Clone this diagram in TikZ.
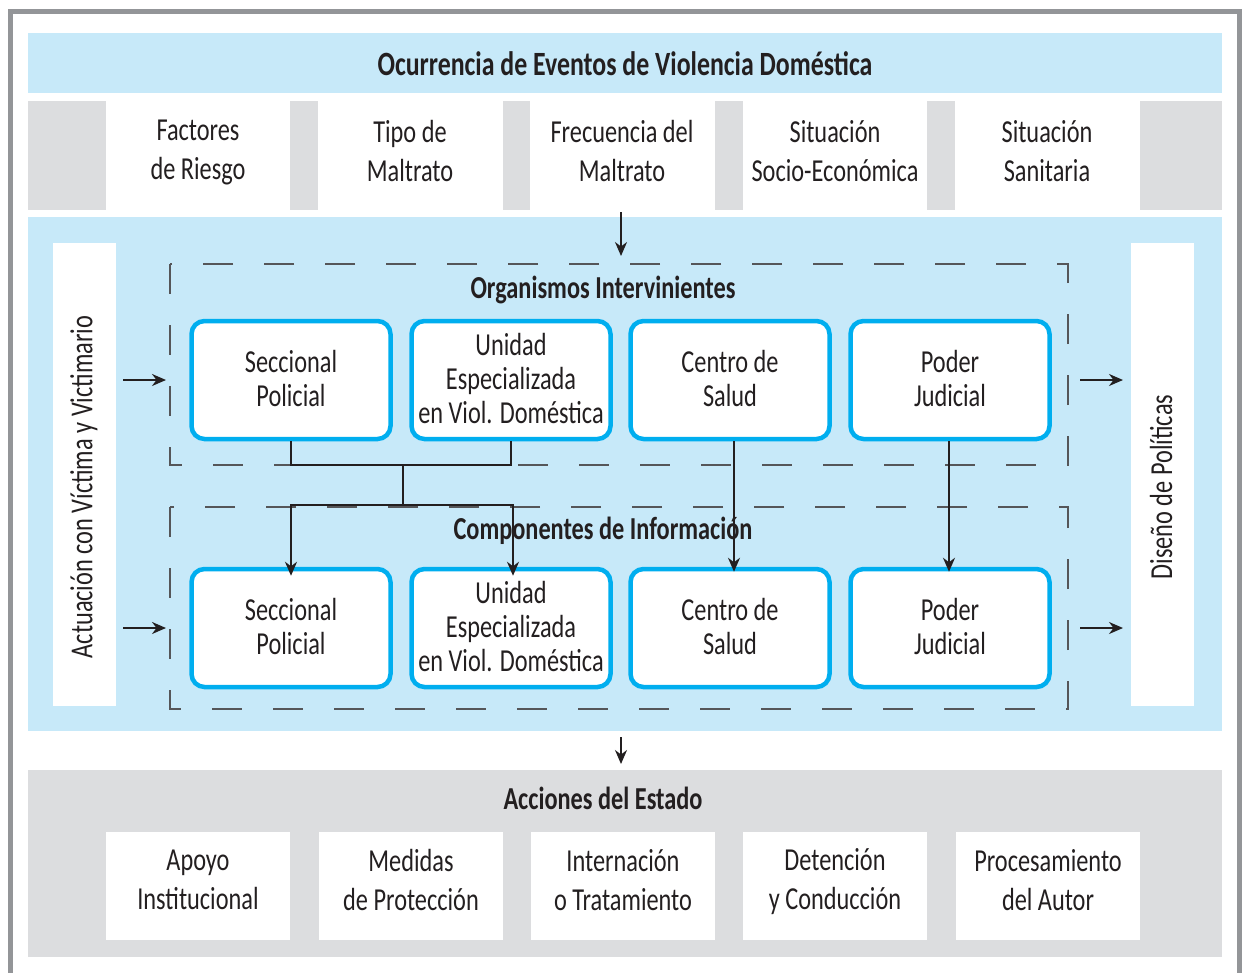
\documentclass[tikz,border=0pt]{standalone}
\usepackage{fontspec}
\setmainfont[FakeStretch=0.76]{Carlito}
\usetikzlibrary{arrows.meta}
\definecolor{lblue}{HTML}{C7E9F9}
\definecolor{cyanb}{HTML}{00AEEF}
\definecolor{lgray}{HTML}{DCDDDF}
\definecolor{fgray}{HTML}{939598}
\definecolor{dgray}{HTML}{555659}
\definecolor{txt}{HTML}{231F20}
\newcommand{\mystrut}{\rule{0pt}{27pt}\rule[-7pt]{0pt}{7pt}}
\newcommand{\mystrutb}{\rule{0pt}{33pt}\rule[-4pt]{0pt}{4pt}}
\tikzset{
  orgbox/.style={draw=cyanb, line width=4.5pt, fill=white, rounded corners=13pt, minimum width=199pt, minimum height=118pt, align=center, text=txt, font=\fontsize{32}{34}\selectfont, inner sep=0pt, execute at begin node=\mystrutb, execute at end node=\mystrutb},
  lbl/.style={align=center, text=txt, font=\fontsize{32}{39}\selectfont, inner sep=0pt, execute at begin node=\mystrutb, execute at end node=\mystrutb},
  vlbl/.style={align=center, text=txt, font=\fontsize{32}{39}\selectfont, inner sep=0pt, rotate=90},
  hdr/.style={align=center, text=txt, font=\bfseries\fontsize{32}{34}\selectfont, inner sep=0pt, execute at begin node=\mystrut, execute at end node=\mystrut},
  dashbox/.style={draw=dgray, line width=1.4pt, dash pattern=on 30pt off 31pt},
  conn/.style={draw=txt, line width=2pt},
  arr/.style={draw=txt, line width=2pt, -{Stealth[length=14pt,width=12pt]}},
}
\begin{document}
\begin{tikzpicture}[x=1pt,y=-1pt]
\useasboundingbox (0,0) rectangle (1242,972);
\clip (0,0) rectangle (1242,972);
\fill[white] (0,0) rectangle (1242,972);
% outer frame
\draw[fgray, line width=5pt] (10.5,11.5) rectangle (1239.5,990);
% top title bar
\fill[lblue] (28,33) rectangle (1222,93);
\node[hdr, font=\bfseries\fontsize{34}{34}\selectfont] (title) at (625,65) {Ocurrencia de Eventos de Violencia Doméstica};
% second row
\foreach \a/\b in {28/106, 290/318, 503/530, 715/743, 927/955, 1140/1222}
  \fill[lgray] (\a,101) rectangle (\b,210);
\node[lbl] (f1) at (198,152.5) {Factores\\de Riesgo};
\node[lbl] (f2) at (410,152.5) {Tipo de\\Maltrato};
\node[lbl] (f3) at (622,152.5) {Frecuencia del\\Maltrato};
\node[lbl] (f4) at (835,152.5) {Situación\\Socio-Económica};
\node[lbl] (f5) at (1047,152.5) {Situación\\Sanitaria};
% main blue region
\fill[lblue] (28,217) rectangle (1222,731);
\fill[white] (53,243) rectangle (116,706);
\fill[white] (1131,243) rectangle (1194,706);
\node[vlbl] (act) at (84,487) {Actuación con Víctima y Victimario};
\node[vlbl] (dis) at (1161,487) {Diseño de Políticas};
% dashed groups
\draw[dashbox] (170,264) rectangle (1068,465);
\draw[dashbox] (170,507) rectangle (1068,709);
\node[hdr] (org) at (603,288) {Organismos Intervinientes};
% boxes
\node[orgbox] (s1) at (291,380) {Seccional\\Policial};
\node[orgbox] (u1) at (511,380) {Unidad\\Especializada\\en Viol. Doméstica};
\node[orgbox] (c1) at (730,380) {Centro de\\Salud};
\node[orgbox] (p1) at (950,380) {Poder\\Judicial};
\node[orgbox] (s2) at (291,628) {Seccional\\Policial};
\node[orgbox] (u2) at (511,628) {Unidad\\Especializada\\en Viol. Doméstica};
\node[orgbox] (c2) at (730,628) {Centro de\\Salud};
\node[orgbox] (p2) at (950,628) {Poder\\Judicial};
% connectors
\coordinate (j1) at (403,465);
\coordinate (j2) at (403,505);
\draw[conn] (s1.south) |- (j1) -| (u1.south);
\draw[conn] (j1) -- (j2);
\draw[arr] (j2) -| ([yshift=-9pt]s2.north);
\draw[arr] (j2) -| ([xshift=2pt,yshift=-9pt]u2.north);
\draw[arr] ([xshift=4pt]c1.south) -- ([xshift=4pt,yshift=-5pt]c2.north);
\draw[arr] ([xshift=-1pt]p1.south) -- ([xshift=-1pt,yshift=-5pt]p2.north);
\node[hdr] (comp) at (603,529) {Componentes de Información};
% side arrows
\coordinate (la1) at (123,380);
\coordinate (la2) at (123,628);
\coordinate (lb1) at (166,380);
\coordinate (lb2) at (166,628);
\coordinate (ra1) at (1080,380);
\coordinate (ra2) at (1080,628);
\coordinate (rb1) at (1123,380);
\coordinate (rb2) at (1123,628);
\draw[arr] (la1) -- (lb1);
\draw[arr] (la2) -- (lb2);
\draw[arr] (ra1) -- (rb1);
\draw[arr] (ra2) -- (rb2);
% vertical arrows
\coordinate (ta) at (621,212);
\coordinate (tb) at (621,256);
\coordinate (ba) at (621,737);
\coordinate (bb) at (621,764);
\draw[arr] (ta) -- (tb);
\draw[arr] (ba) -- (bb);
% bottom region
\fill[lgray] (28,770) rectangle (1222,957);
\node[hdr] (acc) at (603,799) {Acciones del Estado};
\foreach \a/\b in {106/290, 319/503, 531/715, 743/927, 956/1140}
  \fill[white] (\a,832) rectangle (\b,940);
\node[lbl] (a1) at (198,882) {Apoyo\\Institucional};
\node[lbl] (a2) at (411,882) {Medidas\\de Protección};
\node[lbl] (a3) at (623,882) {Internación\\o Tratamiento};
\node[lbl] (a4) at (835,882) {Detención\\y Conducción};
\node[lbl] (a5) at (1048,882) {Procesamiento\\del Autor};
\end{tikzpicture}
\end{document}
